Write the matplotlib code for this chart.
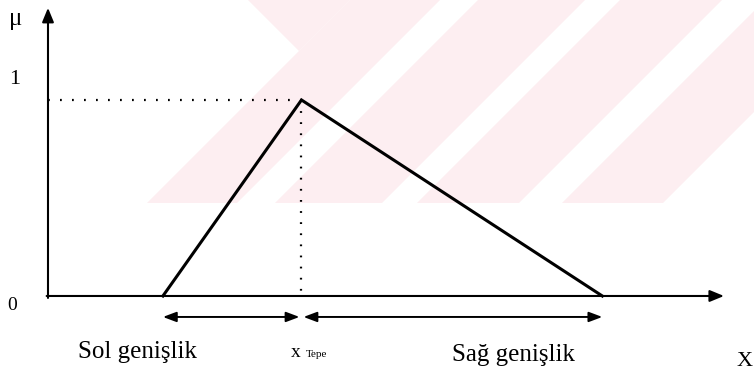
import matplotlib
matplotlib.use("Agg")
import matplotlib.pyplot as plt

plt.rcParams['font.family'] = ['Liberation Serif', 'DejaVu Serif']

# triangular membership function (x values, membership values)
tri_x = [1.7, 3.75, 8.2]
tri_mu = [0, 1, 0]
x_tepe = tri_x[1]
x_axis_end = 10.0
mu_axis_end = 1.47
arrow_level = -0.107

# faint pink watermark stripes of the scanned page (pixel space, u = x + y)
stripe_bands = [(350, 440), (478, 585), (620, 722), (765, 866)]
stripe_bottom = 203
chevron_tip = (248, 350)   # x - y limit, x + y limit of the top-left notch

fig = plt.figure(figsize=(7.54, 3.74), dpi=100)

# background layer in pixel coordinates
bg = fig.add_axes([0, 0, 1, 1])
bg.set_xlim(0, 754)
bg.set_ylim(374, 0)
bg.axis('off')
pink = '#fdeef1'
for u1, u2 in stripe_bands:
    xs = [u1, u2, u2 - stripe_bottom, u1 - stripe_bottom]
    ys = [0, 0, stripe_bottom, stripe_bottom]
    bg.fill(xs, ys, color=pink, lw=0)
d, u = chevron_tip
tip_x = (d + u) / 2
bg.fill([d, u, tip_x], [0, 0, u - tip_x], color=pink, lw=0)

# main drawing
ax = fig.add_axes([0, 0, 1, 1])
ax.set_facecolor('none')
ax.set_xlim(-0.71, 10.444)
ax.set_ylim(-0.398, 1.51)
ax.axis('off')

axis_arrow = dict(arrowstyle='-|>,head_length=0.85,head_width=0.35',
                  color='black', lw=1.5, shrinkA=0, shrinkB=0)
ax.annotate('', xy=(0, mu_axis_end), xytext=(0, -0.01), arrowprops=axis_arrow)
ax.annotate('', xy=(x_axis_end, 0), xytext=(-0.02, 0), arrowprops=axis_arrow)

# dotted guides to the peak
ax.plot([0, x_tepe], [1, 1], color='black', lw=1.6, ls=(0, (0.8, 4.6)))
ax.plot([x_tepe, x_tepe], [1, 0], color='black', lw=1.6, ls=(0, (0.8, 4.2)))

ax.plot(tri_x, tri_mu, color='black', lw=2.2, solid_joinstyle='miter')

# width arrows
width_arrow = dict(arrowstyle='<|-|>,head_length=0.8,head_width=0.3',
                   color='black', lw=1.4, shrinkA=0, shrinkB=0)
ax.annotate('', xy=(x_tepe - 0.03, arrow_level), xytext=(tri_x[0], arrow_level),
            arrowprops=width_arrow)
ax.annotate('', xy=(tri_x[2], arrow_level), xytext=(x_tepe + 0.03, arrow_level),
            arrowprops=width_arrow)

# labels
ax.text(-0.473, 1.415, 'μ', fontsize=18, ha='center', va='center')
ax.text(-0.488, 1.102, '1', fontsize=16, ha='center', va='center')
ax.text(-0.533, -0.046, '0', fontsize=14, ha='center', va='center')
ax.text(1.317, -0.316, 'Sol genişlik', fontsize=18, ha='center', va='baseline')
ax.text(3.67, -0.311, 'x', fontsize=14, ha='center', va='baseline')
ax.text(3.82, -0.311, 'Tepe', fontsize=8, ha='left', va='baseline')
ax.text(6.88, -0.332, 'Sağ genişlik', fontsize=18, ha='center', va='baseline')
ax.text(10.31, -0.357, 'X', fontsize=16, ha='center', va='baseline')

fig.savefig('out.png', dpi=100)
